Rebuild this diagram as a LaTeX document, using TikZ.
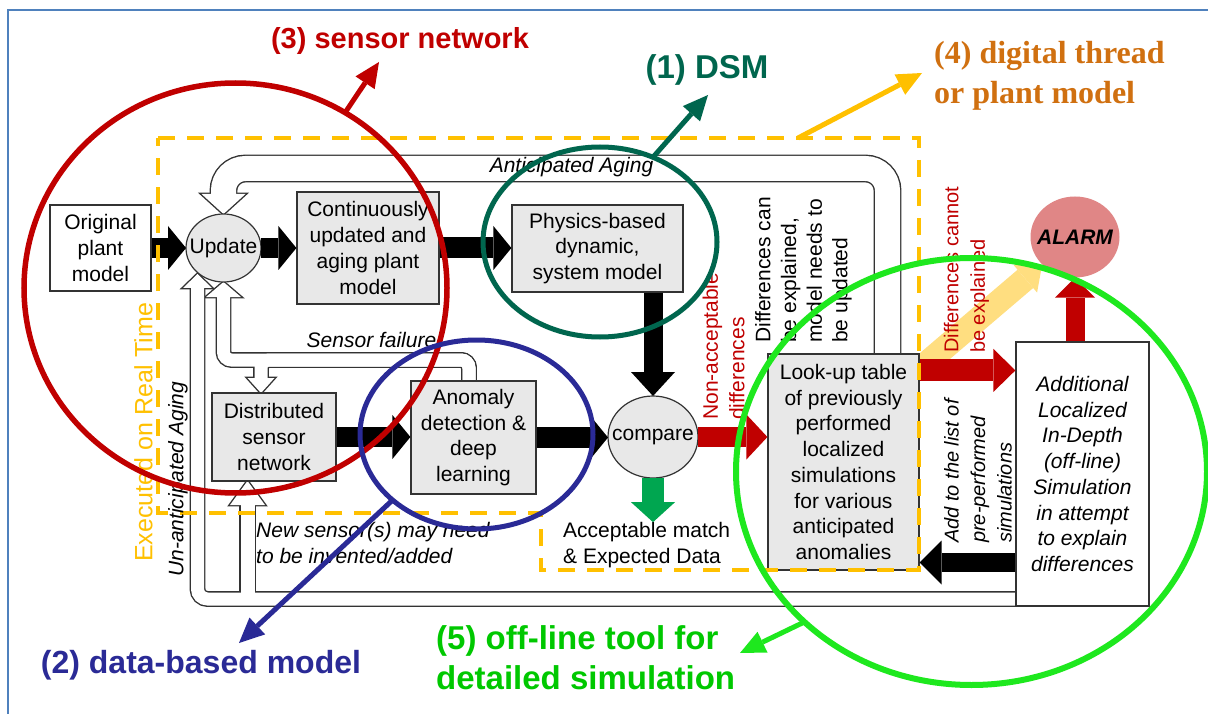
\documentclass[tikz,border=0pt]{standalone}
\usepackage{fontspec}
\setmainfont{Liberation Sans}
\newfontfamily\labelserif{Liberation Serif}
\usetikzlibrary{arrows.meta,shapes.geometric,calc}

\definecolor{boxfill}{HTML}{E8E8E8}
\definecolor{boxline}{HTML}{333333}
\definecolor{frameblue}{HTML}{4F81BD}
\definecolor{gold}{HTML}{FFC000}
\definecolor{paleamber}{RGB}{255,222,128}
\definecolor{alarmred}{RGB}{192,0,0}
\definecolor{alarmfill}{RGB}{224,134,134}
\definecolor{okgreen}{RGB}{0,166,80}
\definecolor{dsmgreen}{RGB}{0,102,78}
\definecolor{navy}{RGB}{42,42,150}
\definecolor{limegreen}{RGB}{30,232,30}
\definecolor{limetext}{RGB}{0,200,0}
\definecolor{threadorange}{RGB}{208,112,16}

\newcommand\bodyfont{\fontsize{21}{25.7}\selectfont}

\pgfdeclarelayer{bands}
\pgfsetlayers{bands,main}

% hollow feedback arrows: centre lines and heads
\def\bandA{(887.5,354) -- (887.5,168.5) -- (223.5,168.5) -- (223.5,197)}
\def\headA{(201.5,194) -- (245.5,194) -- (223.5,214) -- cycle}
\def\bandB{(1016,599) -- (197.5,599) -- (197.5,285)}
\def\headB{(183,288) -- (212,288) -- (197.5,274) -- cycle}
\def\bandC{(247.5,599) -- (247.5,502)}
\def\headC{(230,505) -- (265,505) -- (247.5,481) -- cycle}
\def\bandD{(469,381) -- (469,360) -- (261,360) -- (261,381)}
\def\headD{(247.5,378) -- (274.5,378) -- (261,393) -- cycle}
\def\bandE{(469,381) -- (469,360) -- (223.5,360) -- (223.5,294)}
\def\headE{(206,297) -- (241,297) -- (223.5,282) -- cycle}

\begin{document}
\begin{tikzpicture}[x=1pt, y=-1pt,
  box/.style={draw=boxline, line width=1.2pt, fill=boxfill, inner sep=0pt, align=center, font=\bodyfont},
  whitebox/.style={box, fill=white},
  ell/.style={ellipse, draw=boxline, line width=1.2pt, fill=boxfill, inner sep=0pt, outer sep=0pt},
  ring/.style={ellipse, line width=5pt, inner sep=0pt, outer sep=0pt},
  blk/.style={line width=20pt, -{Triangle[width=44pt,length=18pt,line width=0pt]}},
  ptr/.style={line width=5pt, -{Triangle[width=23pt,length=25pt,line width=0pt]}},
  vtext/.style={rotate=90, anchor=west, inner sep=0pt, align=left, font=\bodyfont},
  lbl/.style={inner sep=0pt, font=\bfseries\fontsize{#1}{#1}\selectfont},
]
\useasboundingbox (0,0) rectangle (1208,714);

% ---- blocks ----
\node[whitebox, minimum width=101pt, minimum height=86pt] (orig) at (100.5,248) {Original\\plant\\model};
\node[ell, minimum width=75pt, minimum height=68pt] (upd) at (223.5,248) {};
\node[font=\bodyfont, inner sep=0pt] at (upd) {Update};
\node[box, minimum width=142pt, minimum height=112pt] (cont) at (368,248) {Continuously\\updated and\\aging plant\\model};
\node[box, minimum width=171pt, minimum height=87pt] (phys) at (597.5,248.5) {Physics-based\\dynamic,\\system model};
\node[box, minimum width=124pt, minimum height=88pt] (dist) at (274,437) {Distributed\\sensor\\network};
\node[box, minimum width=125pt, minimum height=113pt] (anom) at (473.5,437.5) {Anomaly\\detection \&\\deep\\learning};
\node[ell, minimum width=90pt, minimum height=82pt] (comp) at (653,437) {};
\node[font=\bodyfont, inner sep=0pt] at (comp) {compare};
\node[box, minimum width=151pt, minimum height=216pt] (look) at (843.5,462) {Look-up table\\of previously\\performed\\localized\\simulations\\for various\\anticipated\\anomalies};
\node[whitebox, minimum width=133pt, minimum height=264pt, font=\bodyfont\itshape] (add) at (1082.5,474) {Additional\\Localized\\In-Depth\\(off-line)\\Simulation\\in attempt\\to explain\\differences};
\node[ellipse, fill=alarmfill, minimum width=89pt, minimum height=81pt, inner sep=0pt] (alarm) at (1075,237) {};
\node[font=\bfseries\itshape\fontsize{21}{21}\selectfont, inner sep=0pt] at (alarm) {ALARM};
\node[font=\bodyfont, align=left, anchor=west, inner sep=0pt] (acc) at (563,545) {Acceptable match\\\& Expected Data};

% ---- background: frame, pale arrow, hollow feedback arrows ----
\begin{pgfonlayer}{bands}
  \fill[white] (0,0) rectangle (1208,714);
  \draw[frameblue, line width=1.5pt] (8,714) -- (8,10) -- (1208,10);
  \draw[paleamber, line width=24pt, -{Triangle[width=36pt,length=22pt,line width=0pt]}]
    ($(look.north east)+(2,14)$) -- (alarm.220);
  % outline pass
  \begin{scope}[draw=boxline, fill=boxline]
    \draw[line width=27.8pt, rounded corners=22pt] \bandA;
    \draw[line width=15.8pt, rounded corners=10pt] \bandB;
    \draw[line width=16.8pt] \bandC;
    \draw[line width=15.8pt, rounded corners=8pt] \bandD;
    \draw[line width=15.8pt, rounded corners=8pt] \bandE;
    \filldraw[line width=2.8pt] \headA;
    \filldraw[line width=2.8pt] \headB;
    \filldraw[line width=2.8pt] \headC;
    \filldraw[line width=2.8pt] \headD;
    \filldraw[line width=2.8pt] \headE;
  \end{scope}
  % interior pass
  \begin{scope}[draw=white, fill=white]
    \draw[line width=25pt, rounded corners=22pt] \bandA;
    \draw[line width=13pt, rounded corners=10pt] \bandB;
    \draw[line width=14pt] \bandC;
    \draw[line width=13pt, rounded corners=8pt] \bandD;
    \draw[line width=13pt, rounded corners=8pt] \bandE;
    \fill \headA; \fill \headB; \fill \headC; \fill \headD; \fill \headE;
  \end{scope}
\end{pgfonlayer}

% ---- block arrows ----
\draw[blk] (orig.east) -- (orig.east -| upd.west);
\draw[blk] (upd.east) -- (cont.west);
\draw[blk, line width=21pt] (cont.east) -- (cont.east -| phys.west);
\draw[blk, line width=19pt, -{Triangle[width=44pt,length=24pt,line width=0pt]}] (phys.south -| comp.north) -- (comp.north);
\draw[blk] (dist.east) -- (dist.east -| anom.west);
\draw[blk, line width=21pt] (anom.east) -- (anom.east -| comp.west);
\draw[blk, alarmred, line width=20pt, -{Triangle[width=45pt,length=21pt,line width=0pt]}] (comp.east) -- (comp.east -| look.west);
\draw[blk, okgreen, line width=22pt, -{Triangle[width=44pt,length=20pt,line width=0pt]}] (comp.south) -- (comp.south |- acc.north);
\coordinate (redrow) at ($(look.north east)+(0,17)$);
\draw[blk, alarmred, line width=22pt, -{Triangle[width=43pt,length=22pt,line width=0pt]}] (redrow) -- (redrow -| add.west);
\draw[blk, alarmred, line width=19pt, -{Triangle[width=40pt,length=20pt,line width=0pt]}] (alarm.south |- add.north) -- (alarm.south);
\coordinate (backrow) at ($(add.south west)+(0,-44)$);
\draw[blk, line width=19pt, -{Triangle[width=44pt,length=22pt,line width=0pt]}] (backrow) -- (backrow -| look.east);

% ---- real-time boundary ----
\draw[gold, line width=4pt, dash pattern=on 17pt off 12pt]
  (158,138) -- (919,138) -- (919,570) -- (541,570) -- (541,513) -- (158,513) -- cycle;

% ---- connector texts ----
\node[font=\bodyfont\itshape, anchor=base, inner sep=0pt] at (571.5,173) {Anticipated Aging};
\node[font=\bodyfont\itshape, anchor=base, inner sep=0pt] at (371.5,347) {Sensor failure};
\node[font=\bodyfont\itshape, align=left, anchor=west, inner sep=0pt] at (256,543) {New sensor(s) may need\\to be invented/added};
\node[vtext] at (803.5,343) {Differences can\\be explained,\\model needs to\\be updated};
\node[vtext, text=alarmred, font=\fontsize{21}{26.5}\selectfont] at (723.5,420) {Non-acceptable\\differences};
\node[vtext, text=alarmred, font=\fontsize{20}{26.5}\selectfont] at (966.5,353) {Differences cannot\\be explained};
\node[vtext, font=\fontsize{20}{26.5}\selectfont\itshape] at (978,543) {Add to the list of\\pre-performed\\simulations};
\node[vtext, text=gold, font=\fontsize{25}{25}\selectfont] at (143.5,562) {Executed on Real Time};
\node[vtext, font=\bodyfont\itshape] at (178,577) {Un-anticipated Aging};

% ---- highlight rings ----
\node[ring, draw=alarmred, line width=5.5pt, minimum width=423pt, minimum height=410pt] (sensring) at (235.5,288) {};
\node[ring, draw=dsmgreen, minimum width=234pt, minimum height=190pt] (dsmring) at (600,242) {};
\node[ring, draw=navy, minimum width=233pt, minimum height=189pt] (dataring) at (476.5,434.5) {};
\node[ring, draw=limegreen, line width=6pt, minimum width=471pt, minimum height=427pt] (simring) at (971.5,471.5) {};

\coordinate (tip3) at (379,62);
\coordinate (tip1) at (708,95);
\coordinate (tip2) at (239,643);
\coordinate (tip5) at (740,653);
\coordinate (tip4) at (922,73);
\coordinate (threadfoot) at (798,138);
\draw[ptr, alarmred] (sensring.58) -- (tip3);
\draw[ptr, dsmgreen] (dsmring.58) -- (tip1);
\draw[ptr, navy] (dataring.218) -- (tip2);
\draw[ptr, limegreen] (simring.222) -- (tip5);
\draw[ptr, gold] (threadfoot) -- (tip4);

% ---- ring labels ----
\node[lbl=29, text=alarmred] at (400,41) {(3) sensor network};
\node[lbl=33, text=dsmgreen] at (707,70) {(1) DSM};
\node[lbl=32, text=navy] at (201,665) {(2) data-based model};
\node[font=\labelserif\bfseries\fontsize{32}{40}\selectfont, text=threadorange, align=left, anchor=west, inner sep=0pt] at (934,76) {(4) digital thread\\or plant model};
\node[font=\bfseries\fontsize{33}{40}\selectfont, text=limetext, align=left, anchor=west, inner sep=0pt] at (436,658) {(5) off-line tool for\\detailed simulation};
\end{tikzpicture}
\end{document}
